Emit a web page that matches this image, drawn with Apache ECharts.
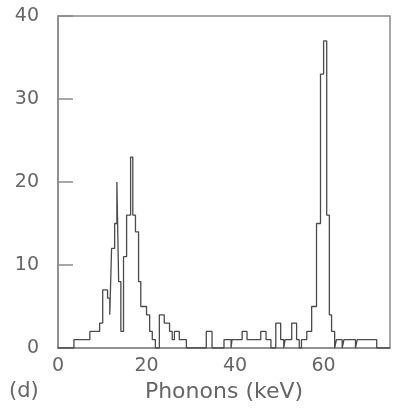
<!DOCTYPE html>
<html><head><meta charset="utf-8">
<script src="https://cdn.jsdelivr.net/npm/echarts@6/dist/echarts.min.js"></script>
<style>html,body{margin:0;padding:0;background:#fff}#c{width:393px;height:414px}</style>
</head><body><div id="c"></div>
<script>
// Histogram levels: each count holds from its edge (keV) until the next edge
const binEdges = [0, 3.6, 5.6, 7.2, 9.4, 10.1, 11.2, 11.7, 12.1, 12.8, 13.3, 13.7, 14.2, 14.8, 15.5, 16.4, 16.9, 17.5, 18.2, 18.7, 19.1, 20.0, 20.7, 21.3, 22.0, 22.9, 24.0, 25.2, 25.8, 26.3, 27.4, 29.0,
  33.5, 34.8, 37.5, 39.1, 39.3, 40.4, 41.6, 42.7, 45.8, 47.0, 48.1, 49.2, 50.3, 51.0, 51.3, 52.1, 52.8, 53.9, 54.5, 55.0, 56.2, 57.3, 58.4, 59.3, 60.0, 60.7, 61.3, 61.8, 62.5, 62.9, 64.2, 64.6, 67.2, 67.6, 72.0, 75];
const counts = [0, 1, 1, 2, 3, 7, 6, 4, 12, 15, 20, 8, 2, 11, 16, 23, 16, 14, 8, 5, 5, 4, 2, 1, 0, 4, 3, 2, 1, 2, 1, 0,
  2, 0, 1, 0, 1, 1, 2, 1, 2, 1, 0, 3, 1, 0, 1, 1, 3, 1, 0, 1, 2, 5, 15, 33, 37, 16, 4, 2, 0, 1, 0, 1, 0, 1, 0, 0];
const xTickValues = [0, 20, 40, 60];
const yTickValues = [0, 10, 20, 30, 40];
const xTitle = 'Phonons (keV)';
const panelLabel = '(d)';

const chart = echarts.init(document.getElementById('c'), null, {renderer: 'canvas'});
const font = 'DejaVu Sans';
const frameColor = '#8a8a8a';
const textColor = '#666';
chart.setOption({
  animation: false,
  backgroundColor: '#fff',
  grid: {left: 58, right: 1, top: 16, bottom: 66, show: true, borderColor: frameColor, borderWidth: 1.5},
  xAxis: {
    type: 'value', min: 0, max: 75, interval: 20,
    axisLine: {show: true, lineStyle: {color: frameColor, width: 1.5}},
    axisTick: {show: false},
    splitLine: {show: false},
    axisLabel: {margin: 9, fontSize: 19, fontFamily: font, color: textColor,
      formatter: v => xTickValues.includes(v) ? String(v) : ''},
    name: xTitle, nameLocation: 'middle', nameGap: 30,
    nameTextStyle: {fontSize: 22, fontFamily: font, color: textColor}
  },
  yAxis: {
    type: 'value', min: 0, max: 40, interval: 10,
    axisLine: {show: true, lineStyle: {color: frameColor, width: 1.5}},
    axisTick: {show: true, inside: true, length: 15, lineStyle: {color: frameColor, width: 1.5}},
    splitLine: {show: false},
    axisLabel: {margin: 19, fontSize: 19, fontFamily: font, color: textColor,
      formatter: v => yTickValues.includes(v) ? String(v) : ''}
  },
  graphic: [{type: 'text', left: 9, top: 381, style: {text: panelLabel, fontSize: 21, fontFamily: font, fill: textColor}}],
  series: [{
    type: 'line', step: 'end', symbol: 'none',
    lineStyle: {color: '#4a4a4a', width: 1.3},
    data: binEdges.map((e, i) => [e, counts[i]])
  }]
});
</script></body></html>
